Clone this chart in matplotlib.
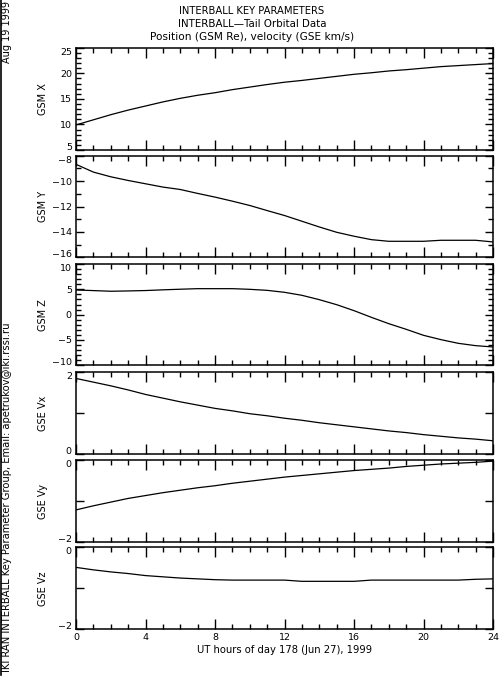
import matplotlib
matplotlib.use("Agg")
import matplotlib.pyplot as plt
from matplotlib.ticker import MultipleLocator, FixedLocator, FixedFormatter
from matplotlib.transforms import ScaledTranslation
import numpy as np

hours = np.arange(0, 25)

gsm_x = [9.9, 10.9, 11.9, 12.8, 13.6, 14.4, 15.1, 15.7, 16.2, 16.8, 17.3, 17.8,
         18.25, 18.6, 19.0, 19.4, 19.8, 20.1, 20.45, 20.7, 21.0, 21.3, 21.5, 21.7, 21.9]
gsm_y = [-8.68, -9.29, -9.66, -9.95, -10.21, -10.47, -10.66, -10.97, -11.26, -11.58,
         -11.92, -12.32, -12.71, -13.16, -13.61, -14.03, -14.34, -14.61, -14.74, -14.74,
         -14.74, -14.66, -14.66, -14.66, -14.79]
gsm_z = [4.87, 4.75, 4.62, 4.68, 4.76, 4.9, 5.02, 5.13, 5.13, 5.13, 5.0, 4.8,
         4.41, 3.82, 2.96, 1.97, 0.79, -0.53, -1.78, -2.89, -4.08, -4.93, -5.66, -6.12, -6.38]
gse_vx = [1.85, 1.76, 1.67, 1.57, 1.46, 1.37, 1.28, 1.20, 1.12, 1.06, 0.99, 0.94,
          0.88, 0.83, 0.77, 0.72, 0.67, 0.62, 0.57, 0.53, 0.48, 0.44, 0.40, 0.37, 0.33]
gse_vy = [-1.21, -1.11, -1.02, -0.93, -0.86, -0.79, -0.73, -0.67, -0.62, -0.56, -0.51, -0.46,
          -0.41, -0.37, -0.33, -0.29, -0.25, -0.22, -0.19, -0.15, -0.12, -0.09, -0.07, -0.05, -0.02]
gse_vz = [-0.49, -0.55, -0.60, -0.64, -0.69, -0.72, -0.75, -0.77, -0.79, -0.80, -0.80, -0.80,
          -0.80, -0.83, -0.83, -0.83, -0.83, -0.80, -0.80, -0.80, -0.80, -0.80, -0.80, -0.78, -0.77]

series = [gsm_x, gsm_y, gsm_z, gse_vx, gse_vy, gse_vz]
ylabels = ["GSM X", "GSM Y", "GSM Z", "GSE Vx", "GSE Vy", "GSE Vz"]
ylims = [(5, 25), (-16, -8), (-10, 10), (0, 2), (-2, 0), (-2, 0)]
ymajor = [5, 2, 5, 1, 1, 1]
yminor = [1, 1, 1, None, None, None]
ylabeled = [None, None, None, [0, 2], [-2, 0], [-2, 0]]
xticks = [0, 4, 8, 12, 16, 20, 24]

W, H = 504, 684
# panel top/bottom edges in pixels
edges = [(47.7, 150), (155.7, 257.3), (264, 365.3), (372.3, 454.3),
         (460.3, 542.3), (547.3, 629.3)]
left, right = 76, 493

plt.rcParams['font.family'] = 'DejaVu Sans'
plt.rcParams['font.size'] = 7

fig = plt.figure(figsize=(W / 100, H / 100), dpi=100)

for i, (top, bot) in enumerate(edges):
    ax = fig.add_axes([left / W, 1 - bot / H, (right - left) / W, (bot - top) / H])
    ax.plot(hours, series[i], color='black', lw=0.9)
    ax.set_xlim(0, 24)
    ax.set_ylim(*ylims[i])
    ax.xaxis.set_major_locator(MultipleLocator(4))
    ax.xaxis.set_minor_locator(MultipleLocator(1))
    ax.yaxis.set_major_locator(MultipleLocator(ymajor[i]))
    if yminor[i]:
        ax.yaxis.set_minor_locator(MultipleLocator(yminor[i]))
    if ylabeled[i]:
        lo, hi = ylims[i]
        locs = list(np.arange(lo, hi + 0.5, 1))
        ax.yaxis.set_major_locator(FixedLocator(locs))
        ax.yaxis.set_major_formatter(FixedFormatter(
            [("%d" % v).replace("-", "\u2212") if v in ylabeled[i] else "" for v in locs]))
    ax.tick_params(which='both', direction='in', top=True, right=True,
                   width=1, colors='black', labelsize=6.8, pad=3)
    ax.tick_params(which='major', length=7)
    ax.tick_params(which='minor', length=3.5)
    ax.tick_params(axis='y', which='major', length=6)
    for s in ax.spines.values():
        s.set_linewidth(1.1)
    ax.set_ylabel(ylabels[i], fontsize=7)
    ax.yaxis.set_label_coords(-0.067, 0.5)
    if i < 5:
        ax.set_xticklabels([])
    else:
        ax.set_xticks(xticks)
        ax.set_xlabel("UT hours of day 178 (Jun 27), 1999", fontsize=7.2, labelpad=2)

    # nudge the end labels inward a little so neighbouring panels don't collide
    fig.canvas.draw()
    ticklabels = ax.get_yticklabels()
    ticklocs = ax.get_yticks()
    for lab, loc in zip(ticklabels, ticklocs):
        if np.isclose(loc, ylims[i][1]):
            lab.set_transform(lab.get_transform() + ScaledTranslation(0, -2.5 / 72, fig.dpi_scale_trans))
        elif np.isclose(loc, ylims[i][0]):
            lab.set_transform(lab.get_transform() + ScaledTranslation(0, 2.5 / 72, fig.dpi_scale_trans))

fig.text(252 / W, 1 - 10.7 / H, "INTERBALL KEY PARAMETERS", ha='center', va='center', fontsize=7.2)
fig.text(252 / W, 1 - 24 / H, "INTERBALL\u2014Tail Orbital Data", ha='center', va='center', fontsize=7.4)
fig.text(252 / W, 1 - 36.7 / H, "Position (GSM Re), velocity (GSE km/s)",
         ha='center', va='center', fontsize=7.6)

fig.text(7 / W, 1 - 1 / H, "Aug 19 1999", rotation=90, ha='center', va='top')
fig.text(7 / W, 1 - 672 / H,
         "IKI RAN INTERBALL Key Parameter Group, Email: apetrukov@iki.rssi.ru",
         rotation=90, ha='center', va='bottom', fontsize=7.2)
fig.add_artist(plt.Line2D([0.8 / W, 0.8 / W], [1 - 675 / H, 1], color='black', lw=1.2))

fig.savefig("out.png", dpi=100)
